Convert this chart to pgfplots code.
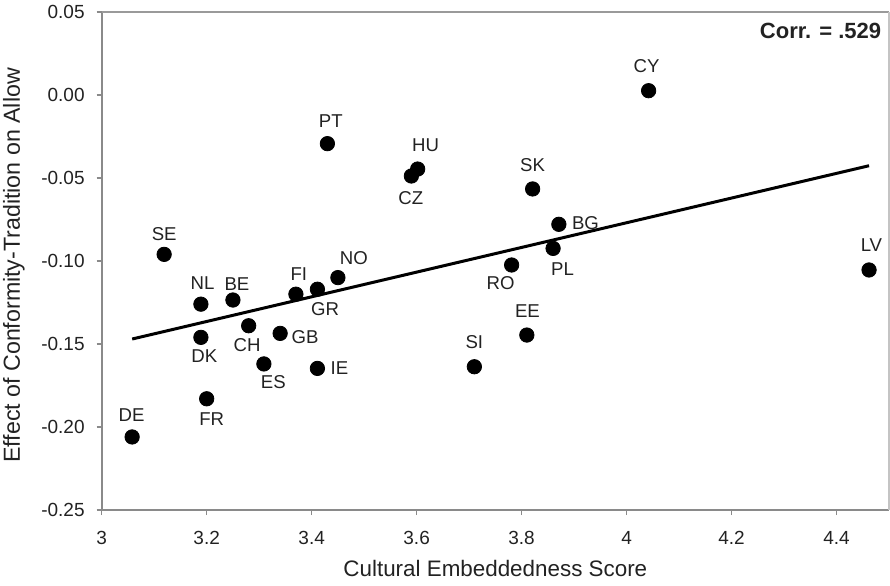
\documentclass[border=0pt]{standalone}
\usepackage{fontspec}
\setmainfont{Liberation Sans}
\usepackage{pgfplots}
\usepackage{pgfplotstable}
\pgfplotsset{compat=1.18}
\definecolor{axgray}{HTML}{8A8A8A}
\definecolor{topgray}{HTML}{9A9A9A}
\definecolor{rightgray}{HTML}{C4C4C4}
\definecolor{txt}{HTML}{222222}

\pgfplotstableread{
x y label dx dy
3.119 -0.0960 SE 0 10.3
3.189 -0.1260 NL 0.8 10.7
3.250 -0.1235 BE 2 7.8
3.370 -0.1200 FI 1.5 10
3.411 -0.1170 GR 3.8 -10
3.450 -0.1100 NO 8 10
3.280 -0.1390 CH -0.8 -9.5
3.340 -0.1436 GB 12.5 -2
3.189 -0.1460 DK 1.7 -9.5
3.309 -0.1620 ES 4.7 -9.3
3.411 -0.1647 IE 11 0.3
3.200 -0.1830 FR 2.5 -10.3
3.058 -0.2060 DE -0.3 10.8
3.602 -0.0446 HU 4 11.7
3.590 -0.0488 CZ -0.3 -10.8
3.821 -0.0566 SK 0 12
3.871 -0.0779 BG 13.3 0.5
3.860 -0.0924 PL 4.7 -10.3
3.781 -0.1024 RO -5.5 -9.2
3.810 -0.1446 EE 0.3 12.2
3.710 -0.1637 SI 0 12.2
4.042 0.0026 CY -1 12.3
3.430 -0.0293 PT 1.7 11.5
4.462 -0.1054 LV 1.2 12.2
}\data

\begin{document}
\begin{tikzpicture}
\useasboundingbox (-50.85pt,-37.5pt) rectangle (394.15pt,255pt);
\begin{axis}[
  at={(0pt,0pt)}, anchor=south west,
  scale only axis, width=393.65pt, height=249pt,
  xmin=3, xmax=4.5, ymin=-0.25, ymax=0.05,
  axis lines=left,
  axis line style={-, axgray, line width=1pt},
  tick align=outside,
  major tick length=2.5pt,
  tick style={axgray, line width=0.8pt},
  xtick={3,3.2,3.4,3.6,3.8,4,4.2,4.4},
  ytick={0.05,0,-0.05,-0.1,-0.15,-0.2,-0.25},
  /pgf/number format/assume math mode=true,
  xticklabel style={/pgf/number format/.cd, fixed, precision=1, /tikz/.cd,
    anchor=base, inner sep=0pt, yshift=-14.6pt, font=\fontsize{9.5}{11}\selectfont, text=txt},
  yticklabel style={/pgf/number format/.cd, fixed, fixed zerofill, precision=2, /tikz/.cd,
    anchor=east, inner sep=0pt, xshift=-5.85pt, font=\fontsize{9.5}{11}\selectfont, text=txt},
  xlabel={Cultural Embeddedness Score},
  ylabel={Effect of Conformity-Tradition on Allow},
  xlabel style={at={(axis description cs:0.5,0)}, anchor=base, inner sep=0pt, yshift=-33pt,
    font=\fontsize{11.2}{13}\selectfont, text=txt},
  ylabel style={at={([xshift=-43.85pt, yshift=-2.2pt]axis description cs:0,0.5)}, anchor=center, inner sep=0pt,
    font=\fontsize{11.6}{13}\selectfont, text=txt},
  clip=false,
]
\addplot[black, line width=1.5pt] coordinates {(3.058,-0.147) (4.462,-0.0426)};
\addplot[only marks, mark=*, mark size=3.6pt, mark options={draw=black, fill=black},
  point meta=explicit symbolic,
  visualization depends on={\thisrow{dx}\as\dx},
  visualization depends on={\thisrow{dy}\as\dy},
  nodes near coords,
  nodes near coords style={anchor=center, inner sep=0pt, xshift=\dx pt, yshift=\dy pt,
    font=\fontsize{9.3}{10}\selectfont, text=txt}]
  table[x=x, y=y, meta=label] {\data};
\draw[topgray, line width=0.8pt] (rel axis cs:0,1) -- (rel axis cs:1,1);
\draw[rightgray, line width=0.8pt] (rel axis cs:1,0) -- (rel axis cs:1,1);
\node[anchor=east, inner sep=0pt, font=\bfseries\fontsize{11}{13}\selectfont, text=txt]
  at ([xshift=-3.7pt, yshift=-9.5pt]rel axis cs:1,1) {Corr. = .529};
\end{axis}
\end{tikzpicture}
\end{document}
